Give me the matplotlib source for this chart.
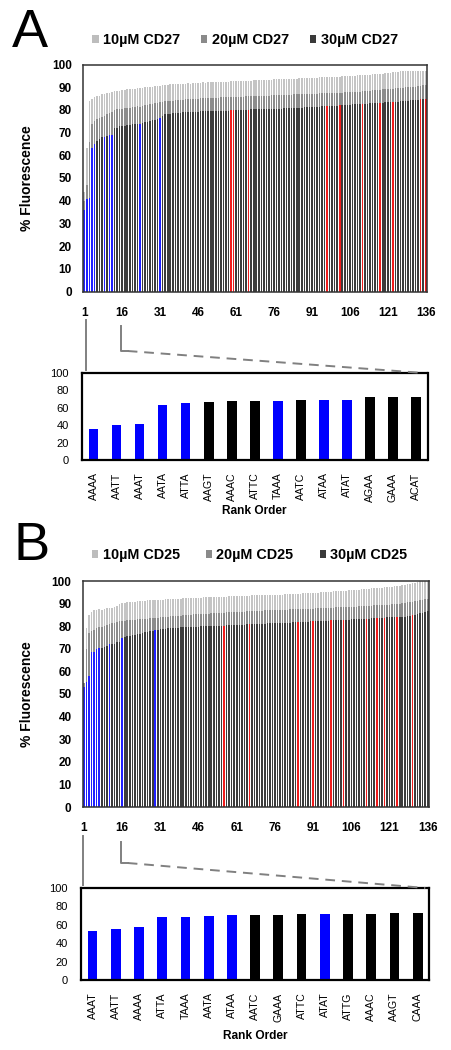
"""Two-panel quenching screen: rank-ordered % fluorescence with top-15 zoom insets."""

import matplotlib
matplotlib.use("Agg")
import matplotlib.pyplot as plt
import matplotlib.transforms as mtransforms
from matplotlib.patches import Patch
from matplotlib.lines import Line2D

plt.rcParams["font.family"] = ["Liberation Sans", "DejaVu Sans"]

W, H = 452, 1050

ranks = list(range(1, 137))
rank_ticks = list(range(1, 137, 15))
conc_labels = ["10\u00b5M", "20\u00b5M", "30\u00b5M"]

# ---- Panel A: CD27 ----
a_10uM = [
    44, 63, 84, 85.0, 85.5, 86.0, 86.3, 86.8, 87.0, 87.5, 87.3, 88.0, 88.2, 88.5, 88.4,
    88.7, 88.8, 89.0, 89.2, 89.1, 89.4, 89.5, 89.8, 89.7, 90.0, 90.1, 90.0, 90.3, 90.5, 90.4, 90.6,
    90.8, 91.0, 91.0, 91.2, 91.3, 91.2, 91.4, 91.5, 91.5, 91.6, 91.7, 91.6, 91.8, 91.9,
    92.0, 92.0, 92.1, 92.0, 92.2, 92.2, 92.3, 92.3, 92.4, 92.4, 92.3, 92.5, 92.5, 92.6, 92.6,
    92.7, 92.7, 92.8, 92.7, 92.8, 92.9, 92.9, 93.0,
    93.0, 93.1, 93.1, 93.2, 93.2, 93.3, 93.3, 93.4, 93.4, 93.5, 93.5, 93.6, 93.6,
    93.7, 93.7, 93.8, 93.8, 93.9, 93.9, 94.0, 94.0, 94.1, 94.1, 94.2, 94.2, 94.3,
    94.3, 94.4, 94.4, 94.5, 94.5, 94.6, 94.6, 94.7, 94.8, 94.8, 94.9, 95.0, 95.0,
    95.1, 95.2, 95.2, 95.3, 95.4, 95.5, 95.5, 95.6, 95.7, 95.8, 95.9, 96.0, 96.1,
    96.2, 96.3, 96.5, 96.6, 96.8, 97.0, 97.1, 97.2, 97.2, 97.3, 97.3, 97.2, 97.3, 97.2, 97.1, 97.0,
]
a_20uM = [
    40, 47, 66, 74, 75, 76, 76.5, 77, 77.5, 78, 78.5, 79, 80, 80.2, 80.5,
    80.6, 80.8, 81.0, 81.0, 81.2, 81.3, 81.5, 81.4, 81.7, 82.0, 82.2, 82.5, 82.8, 83.0, 83.2, 83.4,
    83.6, 83.8, 83.9, 84.0, 84.1, 84.2, 84.3, 84.4, 84.5, 84.6, 84.7, 84.8, 84.9, 85.0,
    85.0, 85.1, 85.1, 85.2, 85.2, 85.3, 85.3, 85.4, 85.4, 85.5, 85.5, 85.6, 85.6, 85.7, 85.7,
    85.8, 85.8, 85.9, 85.9, 86.0, 86.0, 86.1, 86.1,
    86.1, 86.2, 86.2, 86.3, 86.3, 86.3, 86.4, 86.4, 86.5, 86.5, 86.5, 86.6, 86.6,
    86.7, 86.7, 86.8, 86.8, 86.9, 86.9, 87.0, 87.0, 87.1, 87.1, 87.2, 87.2, 87.3,
    87.3, 87.3, 87.4, 87.4, 87.5, 87.5, 87.5, 87.6, 87.6, 87.7, 87.7, 87.7, 87.8,
    87.9, 88.0, 88.1, 88.2, 88.3, 88.4, 88.5, 88.6, 88.7, 88.8, 88.9, 89.0, 89.1,
    89.2, 89.3, 89.4, 89.5, 89.6, 89.7, 89.8, 89.9, 90.0, 90.1, 90.2, 90.3, 90.4, 90.6, 90.8, 91.0,
]
a_30uM = [
    36.0, 40.7, 41.1, 63.2, 65.1, 66.3, 67.4, 68.2, 68.2, 68.6, 69.0, 69.0, 72.1, 72.1, 72.9,
    73.0, 73.1, 73.3, 73.4, 73.6, 73.8, 73.9, 74.0, 74.2, 74.5, 74.8, 75.1, 75.4, 75.7, 76.0, 76.4,
    77.2, 78.0, 78.2, 78.4, 78.5, 78.6, 78.7, 78.8, 78.9, 79.0, 79.0, 79.1, 79.1, 79.2,
    79.2, 79.3, 79.3, 79.4, 79.4, 79.5, 79.5, 79.5, 79.6, 79.6, 79.6, 79.7, 79.7, 79.8, 79.8,
    79.9, 79.9, 80.0, 80.0, 80.1, 80.1, 80.2, 80.3,
    80.3, 80.3, 80.4, 80.4, 80.4, 80.5, 80.5, 80.5, 80.6, 80.6, 80.6, 80.7, 80.7,
    80.8, 80.8, 80.9, 80.9, 81.0, 81.0, 81.1, 81.1, 81.2, 81.2, 81.3, 81.3, 81.4,
    81.5, 81.5, 81.6, 81.7, 81.8, 81.8, 81.9, 82.0, 82.1, 82.2, 82.2, 82.3, 82.4,
    82.5, 82.5, 82.6, 82.7, 82.7, 82.8, 82.9, 82.9, 83.0, 83.1, 83.1, 83.2, 83.3,
    83.4, 83.5, 83.5, 83.6, 83.7, 83.8, 83.9, 84.0, 84.1, 84.2, 84.3, 84.4, 84.5, 84.6, 84.8, 85.0,
]
a_blue_ranks = [1, 2, 3, 4, 5, 9, 11, 12, 23, 31]
a_red_ranks = [59, 60, 66, 97, 102, 111, 118, 123, 134, 136]
a_top_seqs = ["AAAA", "AATT", "AAAT", "AATA", "ATTA", "AAGT", "AAAC", "ATTC",
              "TAAA", "AATC", "ATAA", "ATAT", "AGAA", "GAAA", "ACAT"]

# ---- Panel B: CD25 ----
b_10uM = [
    55, 79, 85, 86.5, 87.0, 87.2, 87.5, 87.3, 87.8, 88.0, 88.2, 88.0, 88.5, 89.0, 90.0,
    90.2, 90.4, 90.5, 90.6, 90.8, 90.9, 91.0, 91.1, 91.2, 91.3, 91.4, 91.5, 91.6, 91.6, 91.7,
    91.8, 91.8, 91.9, 92.0, 92.0, 92.1, 92.1, 92.2, 92.2, 92.3, 92.3, 92.4, 92.4, 92.5, 92.5,
    92.6, 92.6, 92.7, 92.7, 92.8, 92.8,
    92.9, 92.9, 93.0, 93.0, 93.1, 93.1, 93.2, 93.2, 93.3, 93.3, 93.4, 93.4, 93.5, 93.5, 93.5,
    93.6, 93.6,
    93.6, 93.7, 93.7, 93.8, 93.8, 93.8, 93.9, 93.9, 94.0, 94.0, 94.0, 94.1, 94.1,
    94.2, 94.2, 94.3, 94.4, 94.4, 94.5, 94.6, 94.6, 94.7, 94.8, 94.8, 94.9, 95.0,
    95.1, 95.2, 95.2, 95.3, 95.4, 95.4, 95.5, 95.6, 95.7, 95.7, 95.8, 95.9, 96.0,
    96.1, 96.2, 96.3, 96.4, 96.5, 96.6, 96.7, 96.8, 96.9, 97.0, 97.1, 97.2, 97.3,
    97.4, 97.5, 97.6, 97.8, 97.9, 98.1, 98.3, 98.5, 98.7, 99.0, 99.3, 99.6, 99.8, 100.0, 100.0, 100.0,
]
b_20uM = [
    55, 70, 77, 78, 78.5, 79, 79.5, 79.8, 80.0, 80.5, 81.0, 81.2, 81.5, 82.0, 82.3,
    82.4, 82.5, 82.6, 82.7, 82.8, 82.9, 83.0, 83.1, 83.2, 83.3, 83.4, 83.5, 83.6, 83.7, 83.8,
    83.9, 84.0, 84.1, 84.2, 84.3, 84.4, 84.5, 84.6, 84.7, 84.8, 84.9, 85.0, 85.1, 85.2, 85.2,
    85.3, 85.4, 85.5, 85.5, 85.6, 85.7,
    85.7, 85.8, 85.9, 85.9, 86.0, 86.1, 86.1, 86.2, 86.3, 86.3, 86.4, 86.5, 86.5, 86.6, 86.7,
    86.7, 86.8,
    86.8, 86.9, 86.9, 87.0, 87.0, 87.1, 87.1, 87.1, 87.2, 87.2, 87.3, 87.3, 87.3,
    87.4, 87.4, 87.5, 87.5, 87.6, 87.6, 87.7, 87.7, 87.8, 87.8, 87.9, 87.9, 88.0,
    88.0, 88.1, 88.1, 88.2, 88.2, 88.3, 88.3, 88.4, 88.4, 88.5, 88.5, 88.6, 88.7,
    88.7, 88.8, 88.8, 88.9, 89.0, 89.0, 89.1, 89.2, 89.2, 89.3, 89.4, 89.5, 89.5,
    89.6, 89.7, 89.8, 89.9, 90.0, 90.1, 90.3, 90.5, 90.7, 90.9, 91.1, 91.3, 91.5, 91.7, 91.9, 92.0,
]
b_30uM = [
    53.3, 55.1, 58.0, 68.7, 68.7, 69.9, 70.2, 70.2, 71.0, 71.3, 72.0, 72.0, 72.0, 72.8, 73.2,
    75.0, 75.3, 75.5, 75.8, 76.0, 76.2, 76.4, 76.7, 77.0, 77.3, 77.5, 77.8, 78.0, 78.2, 78.4,
    78.6, 78.7, 78.9, 79.0, 79.1, 79.2, 79.3, 79.4, 79.5, 79.5, 79.6, 79.6, 79.7, 79.7, 79.8,
    79.8, 79.9, 79.9, 80.0, 80.0, 80.1,
    80.1, 80.2, 80.2, 80.3, 80.3, 80.4, 80.4, 80.5, 80.5, 80.6, 80.6, 80.7, 80.7, 80.8, 80.8,
    80.9, 80.9,
    81.0, 81.0, 81.1, 81.1, 81.2, 81.2, 81.3, 81.3, 81.4, 81.4, 81.5, 81.5, 81.6,
    81.6, 81.7, 81.7, 81.8, 81.8, 81.9, 82.0, 82.0, 82.1, 82.2, 82.2, 82.3, 82.4,
    82.4, 82.5, 82.5, 82.6, 82.6, 82.7, 82.7, 82.8, 82.8, 82.9, 82.9, 83.0, 83.1,
    83.1, 83.2, 83.2, 83.3, 83.3, 83.4, 83.5, 83.5, 83.6, 83.7, 83.7, 83.8, 83.9,
    83.9, 84.0, 84.0, 84.1, 84.1, 84.2, 84.2, 84.3, 84.5, 84.8, 85.1, 85.4, 85.7, 86.0, 86.4, 86.8,
]
b_blue_ranks = [1, 2, 3, 4, 5, 6, 7, 11, 16, 29]
b_red_ranks = [56, 66, 85, 91, 98, 103, 112, 116, 119, 124, 130]
b_top_seqs = ["AAAT", "AATT", "AAAA", "ATTA", "TAAA", "AATA", "ATAA", "AATC",
              "GAAA", "ATTC", "ATAT", "ATTG", "AAAC", "AAGT", "CAAA"]

GREYS = ["#c4c4c4", "#8c8c8c", "#3c3c3c"]
LEGEND_GREYS = ["#bdbdbd", "#8a8a8a", "#3a3a3a"]
BLUE = "#2020ff"
RED = "#f01c1c"

fig = plt.figure(figsize=(W / 100, H / 100), dpi=100)
px = mtransforms.Affine2D().scale(1 / W, -1 / H).translate(0, 1) + fig.transFigure


def box(x0, y0, x1, y1):
    return [x0 / W, 1 - y1 / H, (x1 - x0) / W, (y1 - y0) / H]


def overview(rect, v10, v20, v30, blue, red, drug, legend_xy, colspace):
    ax = fig.add_axes(rect)
    cols = [BLUE if r in blue else RED if r in red else GREYS[2] for r in ranks]
    ax.bar(ranks, v10, width=0.62, color=GREYS[0], linewidth=0)
    ax.bar(ranks, v20, width=0.62, color=GREYS[1], linewidth=0)
    ax.bar(ranks, v30, width=0.62, color=cols, linewidth=0)
    ax.set_xlim(0.5, 136.5)
    ax.set_ylim(0, 100)
    ax.set_yticks(range(0, 101, 10))
    ax.set_xticks(rank_ticks)
    ax.tick_params(axis="y", length=0, pad=8, labelsize=8.5)
    ax.tick_params(axis="x", length=0, pad=11, labelsize=8.5)
    for t in ax.get_xticklabels() + ax.get_yticklabels():
        t.set_fontweight("bold")
    for s in ax.spines.values():
        s.set_linewidth(1.1)
        s.set_color("#333333")
    ax.set_ylabel("% Fluorescence", fontsize=10, fontweight="bold")
    ax.yaxis.set_label_coords(-0.142, 0.5)

    handles = [Patch(facecolor=c, edgecolor="none") for c in LEGEND_GREYS]
    names = [f"{c} {drug}" for c in conc_labels]
    ax.legend(handles, names, ncol=3, frameon=False, loc="center left",
              bbox_to_anchor=(legend_xy[0] / W, 1 - legend_xy[1] / H),
              bbox_transform=fig.transFigure, borderpad=0, borderaxespad=0,
              handlelength=0.45, handleheight=0.45, handletextpad=0.3,
              columnspacing=colspace, prop={"weight": "bold", "size": 10.4})
    return ax


def inset(rect, seqs, vals, label_y):
    ax = fig.add_axes(rect)
    cols = ["#0000ff" if set(s) <= {"A", "T"} else "#000000" for s in seqs]
    ax.bar(range(len(seqs)), vals, width=0.42, color=cols, linewidth=0)
    ax.set_xlim(-0.5, len(seqs) - 0.5)
    ax.set_ylim(0, 100)
    ax.set_yticks(range(0, 101, 20))
    ax.set_xticks(range(len(seqs)))
    ax.set_xticklabels(seqs, rotation=90)
    ax.tick_params(axis="y", length=0, pad=9.5, labelsize=8)
    ax.tick_params(axis="x", length=0, pad=9, labelsize=7.6)
    for s in ax.spines.values():
        s.set_linewidth(1.6)
        s.set_color("#000000")
    ax.set_xlabel("Rank Order", fontsize=8.6, fontweight="bold")
    ax.xaxis.set_label_coords(0.5, label_y)
    return ax


def connectors(x1, x16, y_top, y_knee, inset_top, inset_right):
    grey = "#808080"
    fig.add_artist(Line2D([x1, x1], [y_top, inset_top - 3], color=grey, lw=1.4, transform=px))
    fig.add_artist(Line2D([x16, x16, x16 + 7], [y_top + 6, y_knee, y_knee], color=grey,
                          lw=1.4, transform=px))
    fig.add_artist(Line2D([x16 + 7, inset_right - 4], [y_knee, inset_top], color=grey,
                          lw=1.4, dashes=(5, 3.5), transform=px))


# Panel A
fig.text(12 / W, 1 - 47 / H, "A", fontsize=39, va="baseline", ha="left")
overview(box(83, 64.5, 427, 291.5), a_10uM, a_20uM, a_30uM, a_blue_ranks, a_red_ranks,
         "CD27", (92, 40), 1.45)
inset(box(82, 373, 427.5, 460), a_top_seqs, a_30uM[:15], -0.52)
connectors(85.7, 120.7, 320, 351, 373, 427.5)

# Panel B
fig.text(13 / W, 1 - 560 / H, "B", fontsize=39, va="baseline", ha="left")
overview(box(82.7, 581, 429, 807), b_10uM, b_20uM, b_30uM, b_blue_ranks, b_red_ranks,
         "CD25", (91.7, 555), 1.8)
inset(box(81, 888, 429.3, 980), b_top_seqs, b_30uM[:15], -0.54)
connectors(83.3, 120.7, 836, 863, 888, 429.3)

fig.savefig("out.png", dpi=100, facecolor="white")
